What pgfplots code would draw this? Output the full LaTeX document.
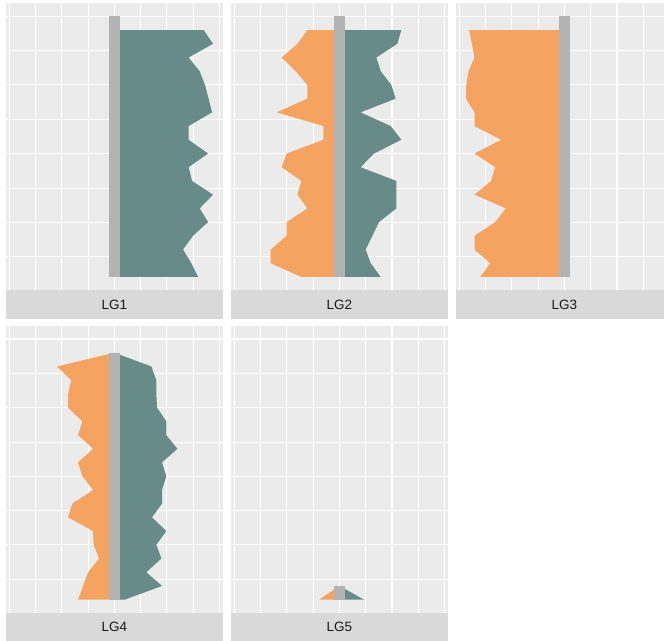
\documentclass[border=0pt]{standalone}
\usepackage{fontspec}
\setmainfont{Liberation Sans}
\usepackage{pgfplots}
\pgfplotsset{compat=1.18}
\usepackage{pgfplotstable}
\definecolor{tealc}{HTML}{668B88}
\definecolor{sandy}{HTML}{F4A460}
\definecolor{panelbg}{HTML}{EBEBEB}
\definecolor{stripbg}{HTML}{D9D9D9}
\definecolor{barg}{HTML}{B3B3B3}
\definecolor{txt}{HTML}{1A1A1A}

% columns: y (position), right (teal), left (orange); first/last rows close the polygon at 0
\pgfplotstableread{
y right left
1 0 0
1 79.6 0
2 73.2 0
3 65.3 0
4 74.8 0
5 89.1 0
6 81.1 0
7 93.8 0
8 73.9 0
9 70.6 0
10 89.1 0
11 70.6 0
12 70.6 0
13 92.9 0
14 89.6 0
15 86.2 0
16 81.1 0
17 70.6 0
18 93.8 0
19 84.9 0
19 0 0
}\lgone
\pgfplotstableread{
y right left
1 0 0
1 39.3 -36.1
2 29.8 -65.3
3 25.0 -65.3
4 31.4 -50.1
5 37.7 -50.1
6 54.2 -30.4
7 54.2 -39.9
8 54.2 -36.1
9 20.2 -54.8
10 33.0 -50.1
11 58.9 -15.2
12 48.8 -15.2
13 20.2 -59.6
14 53.5 -30.4
15 49.4 -30.4
16 39.3 -41.5
17 35.2 -54.8
18 55.1 -39.9
19 58.9 -30.4
19 0 0
}\lgtwo
\pgfplotstableread{
y right left
1 0 0
1 0 -80.0
2 0 -70.5
3 0 -85.4
4 0 -85.4
5 0 -65.8
6 0 -55.6
7 0 -85.4
8 0 -69.6
9 0 -65.8
10 0 -85.4
11 0 -60.1
12 0 -85.4
13 0 -85.4
14 0 -93.6
15 0 -93.3
16 0 -91.1
17 0 -85.4
18 0 -87.9
19 0 -90.5
19 0 0
}\lgthree
\pgfplotstableread{
y right left
1 0 0
1 9.8 -34.5
2 45.3 -29.8
3 30.4 -25.0
4 44.7 -14.5
5 39.9 -19.7
6 49.4 -20.2
7 35.8 -44.0
8 45.3 -39.9
9 45.3 -20.2
10 49.4 -30.4
11 45.3 -34.5
12 59.9 -20.2
13 49.4 -34.5
14 49.4 -30.4
15 40.6 -44.0
16 39.9 -44.0
17 39.9 -40.9
18 35.2 -54.5
19 0 0
}\lgfour
\pgfplotstableread{
y right left
1 0 0
1 23.5 -19.3
2 0 0
}\lgfive

\pgfplotsset{
 facet/.style={
  scale only axis, width=216.7pt, height=286.7pt,
  xmin=-103, xmax=103, ymin=0.05, ymax=20.95,
  xtick={-100,-50,0,50,100}, minor xtick={-75,-25,25,75},
  ytick={5,10,15,20}, minor ytick={2.5,7.5,12.5,17.5},
  grid=both,
  major grid style={white, line width=1.1pt},
  minor grid style={white, line width=0.55pt},
  xticklabels={}, yticklabels={},
  major tick length=0pt, minor tick length=0pt,
  axis line style={draw=none},
  axis background/.style={fill=panelbg},
  anchor=south west,
 },
 teala/.style={fill=tealc, draw=none},
 orangea/.style={fill=sandy, draw=none},
 bara/.style={fill=barg, draw=none},
}
\newcommand{\strip}[3]{%
 \fill[stripbg] (#1,#2) rectangle ++(216.7pt,29pt);
 \node[text=txt, font=\fontsize{13.5}{16}\selectfont, anchor=center] at ([xshift=108.35pt,yshift=14.6pt]#1,#2) {#3};
}

\begin{document}
\begin{tikzpicture}
\useasboundingbox (0pt,0pt) rectangle (664pt,640pt);
\clip (0pt,0pt) rectangle (664pt,640pt);

% LG1
\begin{axis}[facet, at={(6pt,350pt)}]
\addplot[teala] table[x=right,y=y]{\lgone} -- cycle;
\addplot[bara] coordinates {(-5.2,1) (5.2,1) (5.2,20) (-5.2,20)} -- cycle;
\end{axis}
% LG2
\begin{axis}[facet, at={(231pt,350pt)}]
\addplot[teala] table[x=right,y=y]{\lgtwo} -- cycle;
\addplot[orangea] table[x=left,y=y]{\lgtwo} -- cycle;
\addplot[bara] coordinates {(-5.2,1) (5.2,1) (5.2,20) (-5.2,20)} -- cycle;
\end{axis}
% LG3
\begin{axis}[facet, at={(456pt,350pt)}]
\addplot[orangea] table[x=left,y=y]{\lgthree} -- cycle;
\addplot[bara] coordinates {(-5.2,1) (5.2,1) (5.2,20) (-5.2,20)} -- cycle;
\end{axis}
% LG4
\begin{axis}[facet, at={(6pt,27.3pt)}]
\addplot[teala] table[x=right,y=y]{\lgfour} -- cycle;
\addplot[orangea] table[x=left,y=y]{\lgfour} -- cycle;
\addplot[bara] coordinates {(-5.2,1) (5.2,1) (5.2,19) (-5.2,19)} -- cycle;
\end{axis}
% LG5
\begin{axis}[facet, at={(231pt,27.3pt)}]
\addplot[teala] table[x=right,y=y]{\lgfive} -- cycle;
\addplot[orangea] table[x=left,y=y]{\lgfive} -- cycle;
\addplot[bara] coordinates {(-5.2,1) (5.2,1) (5.2,2) (-5.2,2)} -- cycle;
\end{axis}

\strip{6pt}{321pt}{LG1}
\strip{231pt}{321pt}{LG2}
\strip{456pt}{321pt}{LG3}
\strip{6pt}{-1.7pt}{LG4}
\strip{231pt}{-1.7pt}{LG5}
\end{tikzpicture}
\end{document}
